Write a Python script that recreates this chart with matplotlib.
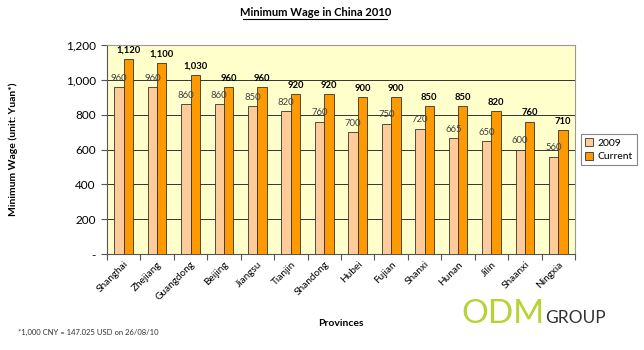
import matplotlib
matplotlib.use("Agg")
import matplotlib.pyplot as plt
import numpy as np
from matplotlib.ticker import FuncFormatter

provinces = ["Shanghai", "Zhejiang", "Guangdong", "Beijing", "Jiangsu", "Tianjin",
             "Shandong", "Hubei", "Fujian", "Shanxi", "Hunan", "Jilin", "Shaanxi", "Ningxia"]
wage_2009 = [960, 960, 860, 860, 850, 820, 760, 700, 750, 720, 665, 650, 600, 560]
wage_current = [1120, 1100, 1030, 960, 960, 920, 920, 900, 900, 850, 850, 820, 760, 710]
yticks = [0, 200, 400, 600, 800, 1000, 1200]

plt.rcParams['font.family'] = ['Lato', 'DejaVu Sans']

fig = plt.figure(figsize=(6.44, 3.5), dpi=100)
fig.patch.set_facecolor('white')
ax = fig.add_axes([0.166, 0.274, 0.727, 0.597])
ax.set_facecolor('#FFFFCC')

x = np.arange(len(provinces))
w = 0.28
ax.bar(x - w/2, wage_2009, w, color='#FFCC99', edgecolor='#333333', linewidth=0.6, label='2009', zorder=3)
ax.bar(x + w/2, wage_current, w, color='#FF9900', edgecolor='#333333', linewidth=0.6, label='Current', zorder=3)

fmt = lambda v: f"{v:,}"
for xi, v in zip(x, wage_2009):
    ax.text(xi - w/2, v + 25, fmt(v), ha='center', va='bottom', fontsize=6.8, color='#404040', zorder=4)
for xi, v in zip(x, wage_current):
    ax.text(xi + w/2, v + 25, fmt(v), ha='center', va='bottom', fontsize=6.8, fontweight='bold', color='black', zorder=4)

ax.set_xlim(-0.5, len(provinces) - 0.5)
ax.set_ylim(0, 1200)
ax.set_yticks(yticks)
ax.yaxis.set_major_formatter(FuncFormatter(lambda v, p: "-" if v == 0 else f"{int(v):,}"))
ax.yaxis.grid(True, color='#333333', linewidth=0.7, zorder=1)
ax.set_xticks(np.arange(len(provinces) + 1) - 0.5, minor=False)
ax.set_xticklabels([])
ax.set_xticks(x, minor=True)
ax.set_xticklabels(provinces, minor=True, rotation=45, ha='right', rotation_mode='anchor', fontsize=7.2)
ax.tick_params(axis='x', which='minor', length=0, pad=4)
ax.tick_params(axis='x', which='major', length=4, direction='out', color='#555555')
ax.tick_params(axis='y', length=4, direction='out', labelsize=8.5, color='#555555', pad=4)

for s in ['top', 'right']:
    ax.spines[s].set_color('#999999')
    ax.spines[s].set_linewidth(0.8)
for s in ['left', 'bottom']:
    ax.spines[s].set_color('#555555')
    ax.spines[s].set_linewidth(0.8)

ax.set_xlabel("Provinces", fontsize=7.5, fontweight='bold')
ax.xaxis.set_label_coords(0.5, -0.31)
ax.set_ylabel("Minimum Wage (unit: Yuan*)", fontsize=7.5, fontweight='bold')
ax.yaxis.set_label_coords(-0.19, 0.5)

leg = ax.legend(loc='center left', bbox_to_anchor=(1.012, 0.5), fontsize=7.5, frameon=True,
                fancybox=False, edgecolor='#666666', handlelength=0.8, handleheight=0.8,
                borderpad=0.4, labelspacing=0.4, handletextpad=0.4, borderaxespad=0)
leg.get_frame().set_linewidth(0.8)

fig.text(0.49, 0.965, "Minimum Wage in China 2010", ha='center', va='center', fontsize=8,
         fontweight='bold', color='black')
fig.add_artist(plt.Line2D([0.378, 0.601], [0.945, 0.945], color='black', linewidth=0.8))

fig.text(0.028, 0.05, "*1,000 CNY = 147.025 USD on 26/08/10", fontsize=5.5, color='#333333', va='center')

fig.text(0.716, 0.078, "ODM", fontsize=24, color='#B5D334', va='baseline', ha='left')
fig.text(0.847, 0.078, "GROUP", fontsize=12.5, color='#333333', va='baseline', ha='left')

fig.savefig("out.png", dpi=100)
